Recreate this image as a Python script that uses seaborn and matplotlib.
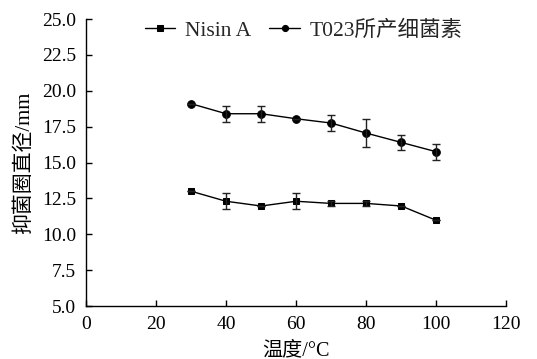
import numpy as np
import pandas as pd
import matplotlib
matplotlib.use("Agg")
import matplotlib.pyplot as plt
import seaborn as sns

temps = [30, 40, 50, 60, 70, 80, 90, 100]
nisin = [13.0, 12.3, 11.97, 12.3, 12.15, 12.15, 11.97, 10.97]
nisin_err = [0.0, 0.55, 0.0, 0.55, 0.2, 0.2, 0.0, 0.0]
t023 = [19.1, 18.4, 18.4, 18.05, 17.75, 17.05, 16.4, 15.75]
t023_err = [0.0, 0.55, 0.55, 0.0, 0.55, 1.0, 0.55, 0.55]
xticks = [0, 20, 40, 60, 80, 100, 120]
yticks = [5.0, 7.5, 10.0, 12.5, 15.0, 17.5, 20.0, 22.5, 25.0]

sns.set_theme(style="white")
plt.rcParams['font.family'] = ['Liberation Serif', 'Noto Sans CJK SC']
plt.rcParams['axes.unicode_minus'] = False

fig = plt.figure(figsize=(5.37, 3.59), dpi=100)
ax = fig.add_axes([0.160, 0.1476, 0.783, 0.7994])

df = pd.DataFrame({"t": temps, "nisin": nisin, "t023": t023})
sns.lineplot(data=df, x="t", y="nisin", marker="s", markersize=5, color="black",
             linewidth=1.0, markeredgecolor="black", label="Nisin A", ax=ax)
sns.lineplot(data=df, x="t", y="t023", marker="o", markersize=5.5, color="black",
             linewidth=1.0, markeredgecolor="black", label="T023所产细菌素", ax=ax)
ax.errorbar(temps, nisin, yerr=nisin_err, fmt="none", ecolor="#222222",
            elinewidth=1.0, capsize=3, capthick=1.0)
ax.errorbar(temps, t023, yerr=t023_err, fmt="none", ecolor="#222222",
            elinewidth=1.0, capsize=3, capthick=1.0)

ax.set_xlim(0, 120)
ax.set_ylim(5.0, 25.0)
ax.set_xticks(xticks)
ax.set_xticklabels([str(v) for v in xticks])
ax.set_yticks(yticks)
ax.set_yticklabels([f"{v:.1f}" for v in yticks])
for s in ["top", "right"]:
    ax.spines[s].set_visible(False)
for s in ["left", "bottom"]:
    ax.spines[s].set_color("black")
    ax.spines[s].set_linewidth(1.0)
ax.tick_params(axis="both", direction="in", length=4, width=1.0, colors="black",
               labelsize=14, left=True, bottom=True)
ax.tick_params(axis="x", pad=7)
ax.tick_params(axis="y", pad=7)
ax.set_xlabel("温度/°C", fontsize=14.5, color="black", labelpad=6)
ax.set_ylabel("抑菌圈直径/mm", fontsize=15, color="black", labelpad=6)

leg = ax.legend(loc="center", bbox_to_anchor=(0.518, 0.96), ncol=2, frameon=False,
                fontsize=15.5, handlelength=1.4, handletextpad=0.45, columnspacing=0.85,
                markerscale=0.8)

fig.savefig("out.png", dpi=100)
